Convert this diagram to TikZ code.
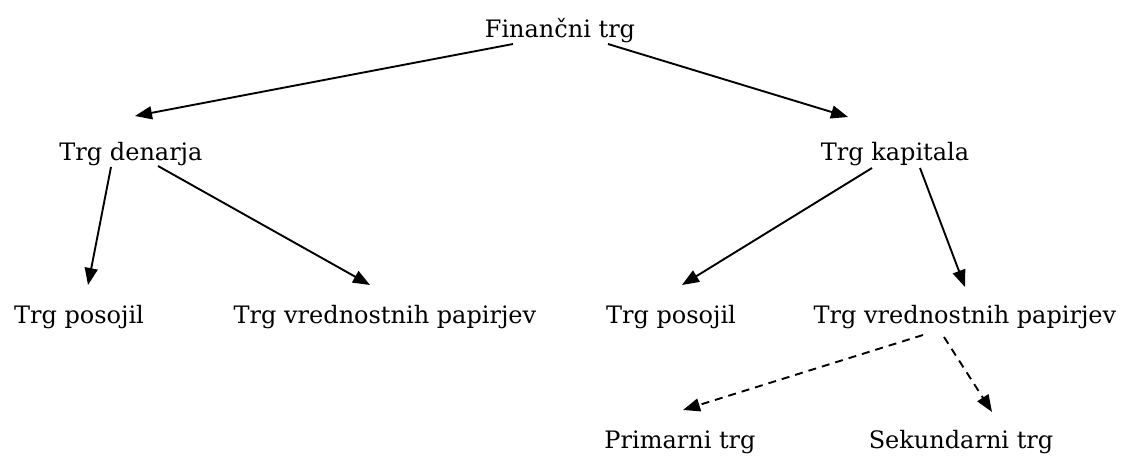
\documentclass[tikz,border=0pt]{standalone}
\usepackage{fontspec}
\setmainfont{DejaVu Serif}
\usetikzlibrary{arrows.meta,calc}
\begin{document}
\begin{tikzpicture}[x=1pt,y=-1pt,
  lbl/.style={anchor=base,inner sep=0pt,font=\fontsize{24}{28}\selectfont},
  conn/.style={line width=1.9pt,-{Triangle[length=17pt,width=13pt]}},
  dconn/.style={conn,dash pattern=on 8pt off 6pt}]
\useasboundingbox[fill=white] (0,0) rectangle (1134,456);
\node[lbl] (fin) at (560,37) {Finančni trg};
\node[lbl] (den) at (131,160) {Trg denarja};
\node[lbl] (kap) at (895,160) {Trg kapitala};
\node[lbl] (posL) at (79,323) {Trg posojil};
\node[lbl] (tvpL) at (385,323) {Trg vrednostnih papirjev};
\node[lbl] (posR) at (671,323) {Trg posojil};
\node[lbl] (tvpR) at (965,323) {Trg vrednostnih papirjev};
\node[lbl] (prim) at (680,448) {Primarni trg};
\node[lbl] (sek) at (961,448) {Sekundarni trg};
\draw[conn] ($(fin.base)+(-47,7)$) -- ($(den.base)+(4,-44)$);
\draw[conn] ($(fin.base)+(48,7)$) -- ($(kap.base)+(-47,-43)$);
\draw[conn] ($(den.base)+(-20,7)$) -- ($(posL.base)+(9,-38)$);
\draw[conn] ($(den.base)+(27,6)$) -- ($(tvpL.base)+(-15,-38)$);
\draw[conn] ($(kap.base)+(-23,8)$) -- ($(posR.base)+(11,-38)$);
\draw[conn] ($(kap.base)+(25,8)$) -- ($(tvpR.base)+(0,-36)$);
\draw[dconn] ($(tvpR.base)+(-42,12)$) -- ($(prim.base)+(3,-38)$);
\draw[dconn] ($(tvpR.base)+(-21,14)$) -- ($(sek.base)+(31,-36)$);
\end{tikzpicture}
\end{document}
